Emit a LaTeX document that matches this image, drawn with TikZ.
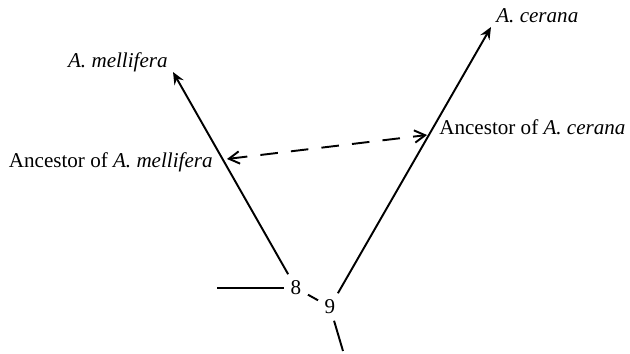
\documentclass[tikz,border=0pt]{standalone}
\usepackage{fontspec}
\setmainfont{Liberation Serif}
\usetikzlibrary{arrows.meta}

\begin{document}
\begin{tikzpicture}[
	x=0.02cm, y=-0.02cm,
	ramo/.style={line width=1.1pt, black},
	ramofreccia/.style={ramo, -{Stealth[length=7pt, width=6pt, inset=2.5pt]}},
	legame/.style={line width=1.1pt, black, dash pattern=on 10pt off 7.5pt,
		{Straight Barb[length=6pt, width=7pt]}-{Straight Barb[length=6pt, width=7pt]}},
	etichetta/.style={inner sep=0pt, font=\fontsize{12}{14}\selectfont},
	nodo/.style={inner sep=3.6pt, font=\fontsize{12}{14}\selectfont},
	]
	\useasboundingbox (0,0) rectangle (630,354);
	
	\node[nodo] (n8) at (296,288) {8};
	\node[nodo] (n9) at (330,307) {9};
	\coordinate (radice) at (217,288);
	\coordinate (fondo) at (343,351);
	\coordinate (puntaM) at (173,72);
	\coordinate (puntaC) at (491,27);
	\coordinate (antM) at (227,159);
	\coordinate (antC) at (427,135);
	
	\draw[ramo](radice)--(n8);
	\draw[ramo](n8)--(n9);
	\draw[ramo](n9)--(fondo);
	\draw[ramofreccia](n8)--(puntaM);
	\draw[ramofreccia](n9)--(puntaC);
	\draw[legame](antM)--(antC);
	
	\node[etichetta, anchor=base east] (mellifera) at (168,68)
	{\textit{A. mellifera}};
	\node[etichetta, anchor=base west] (cerana) at (496,23)
	{\textit{A. cerana}};
	\node[etichetta, anchor=base east] (antenatoM) at (213,168)
	{Ancestor of \textit{A. mellifera}};
	\node[etichetta, anchor=base west] (antenatoC) at (439,135)
	{Ancestor of \textit{A. cerana}};
\end{tikzpicture}
\end{document}
